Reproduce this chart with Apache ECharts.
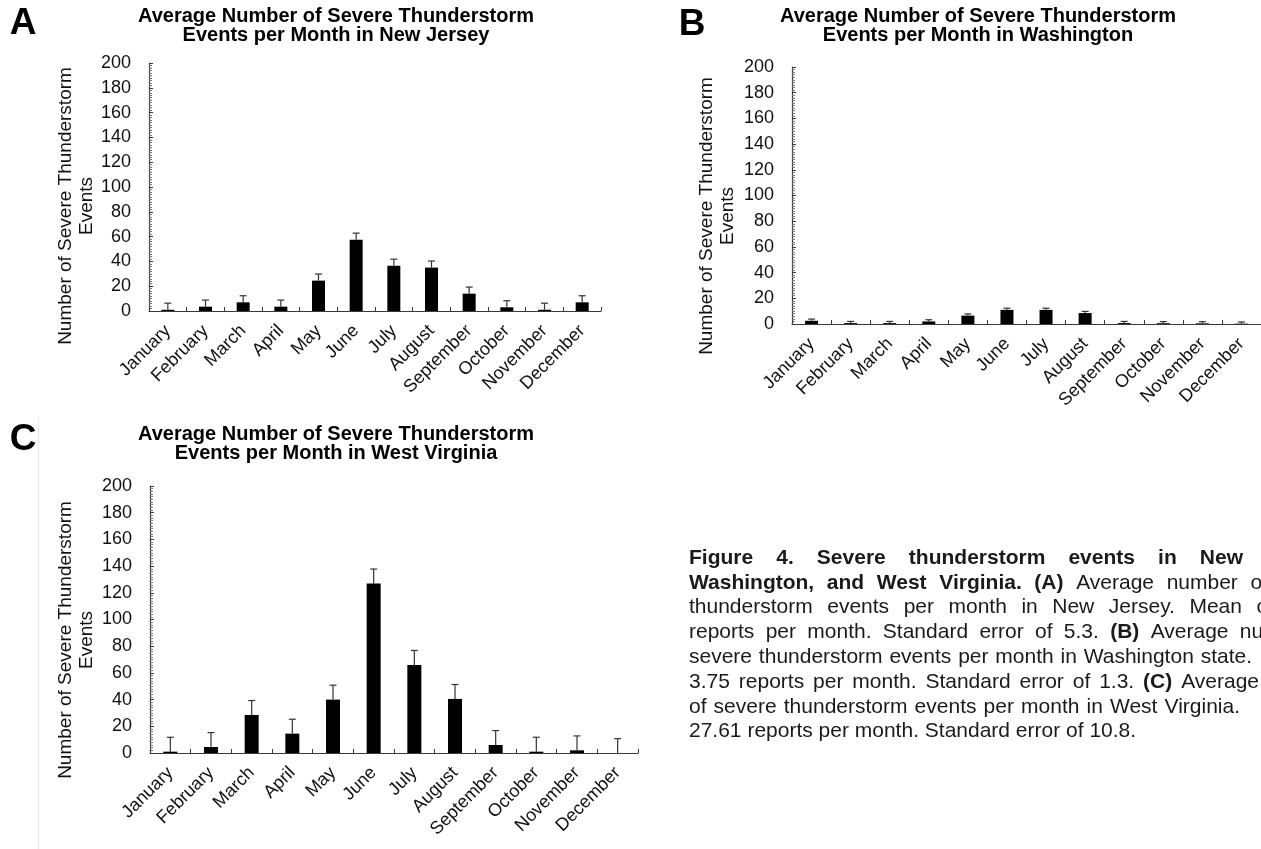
<!DOCTYPE html>
<html>
<head>
<meta charset="utf-8">
<script src="https://cdn.jsdelivr.net/npm/echarts@6/dist/echarts.min.js"></script>
<style>
  html, body { margin: 0; padding: 0; background: #fff; }
  #chart { width: 1261px; height: 849px; }
</style>
</head>
<body>
<div id="chart"></div>
<script>
// ---- data ----
const months = ['January', 'February', 'March', 'April', 'May', 'June',
                'July', 'August', 'September', 'October', 'November', 'December'];
const yMin = 0, yMax = 200, yStep = 20;

// New Jersey: mean reports per month, standard error
const njMeans = [1, 3.5, 7, 3.5, 24.5, 57.5, 36.5, 35, 14, 3, 1, 7];
const njSE = 5.3;

// Washington
const waMeans = [2.5, 0.7, 0.7, 2, 6.5, 11, 11, 8.5, 0.7, 0.6, 0.5, 0.3];
const waSE = 1.3;

// West Virginia
const wvMeans = [1, 4.5, 28.5, 14.5, 40, 127, 66, 40.5, 6, 1, 2, 0];
const wvSE = 10.8;

const panelLetters = ['A', 'B', 'C'];
const panelTitles = [
  'Average Number of Severe Thunderstorm\nEvents per Month in New Jersey',
  'Average Number of Severe Thunderstorm\nEvents per Month in Washington',
  'Average Number of Severe Thunderstorm\nEvents per Month in West Virginia'
];
const yAxisTitle = 'Number of Severe Thunderstorm\nEvents';

const captionLines = [
  '**Figure 4. Severe thunderstorm events in New**',
  '**Washington, and West Virginia. (A)** Average number of',
  'thunderstorm events per month in New Jersey. Mean of',
  'reports per month. Standard error of 5.3. **(B)** Average number',
  'severe thunderstorm events per month in Washington state.',
  '3.75 reports per month. Standard error of 1.3. **(C)** Average',
  'of severe thunderstorm events per month in West Virginia.',
  '27.61 reports per month. Standard error of 10.8.'
];

// ---- layout ----
const FONT = '"Liberation Sans", Arial, Helvetica, sans-serif';
const panelData = [
  { means: njMeans, se: njSE },
  { means: waMeans, se: waSE },
  { means: wvMeans, se: wvSE }
];
const panelLayout = [
  { grid: { left: 149, top: 63, width: 452, height: 248 }, barWidth: 13, title: [336, 25.5], letter: [23, 24], yName: [76, 206] },
  { grid: { left: 792, top: 67, width: 475, height: 257 }, barWidth: 13, title: [978, 26], letter: [692, 25], yName: [717, 216] },
  { grid: { left: 150, top: 486, width: 488, height: 267 }, barWidth: 14, title: [336, 444], letter: [23, 440], yName: [76, 640] }
];
// caption block: left edge, first line centre, line step, right end of each justified line (null = ragged)
const captionBox = { x: 689, y: 558, step: 24.8, size: 21 };
const captionRight = [1243, 1268, 1274, 1311, 1252, 1259, 1240, null];

const INK = '#111';
const AXIS = '#3a3a3a';

const grids = [], xAxes = [], yAxes = [], series = [], graphics = [];

panelLayout.forEach((lay, i) => {
  grids.push(Object.assign({ containLabel: false }, lay.grid));
  xAxes.push({
    type: 'category', gridIndex: i, data: months, boundaryGap: true,
    axisLine: { lineStyle: { color: AXIS, width: 1.2 } },
    axisTick: { show: true, inside: true, length: 4, lineStyle: { color: AXIS } },
    axisLabel: { interval: 0, rotate: 45, margin: 17, fontSize: 18, fontFamily: FONT, color: INK }
  });
  yAxes.push({
    type: 'value', gridIndex: i, min: yMin, max: yMax, interval: yStep,
    splitLine: { show: false },
    axisLine: { show: true, lineStyle: { color: AXIS, width: 1.2 } },
    axisTick: { show: true, inside: true, length: 4, lineStyle: { color: AXIS } },
    minorTick: { show: true, splitNumber: 10, length: 3, lineStyle: { color: '#777' } },
    axisLabel: { margin: 18, fontSize: 18, fontFamily: FONT, color: INK }
  });
  const d = panelData[i];
  series.push({
    type: 'bar', xAxisIndex: i, yAxisIndex: i, data: d.means,
    barWidth: lay.barWidth, itemStyle: { color: '#000' }, silent: true, z: 2
  });
  series.push({
    type: 'custom', xAxisIndex: i, yAxisIndex: i, silent: true, z: 3,
    encode: { x: 0, y: 1 },
    data: d.means.map((m, k) => [k, m, d.se]),
    renderItem: (params, api) => {
      const k = api.value(0), m = api.value(1), e = api.value(2);
      const base = api.coord([k, m]);
      const top = api.coord([k, m + e]);
      const cap = 3.5;
      const st = { stroke: '#333', lineWidth: 1.2 };
      return {
        type: 'group', children: [
          { type: 'line', shape: { x1: base[0], y1: base[1], x2: top[0], y2: top[1] }, style: st },
          { type: 'line', shape: { x1: top[0] - cap, y1: top[1], x2: top[0] + cap, y2: top[1] }, style: st }
        ]
      };
    }
  });

  graphics.push({
    type: 'text', x: lay.letter[0], y: lay.letter[1],
    style: { text: panelLetters[i], fontSize: 37, fontWeight: 'bold', fontFamily: FONT, fill: '#000', align: 'center', verticalAlign: 'middle' }
  });
  graphics.push({
    type: 'text', x: lay.title[0], y: lay.title[1],
    style: { text: panelTitles[i], fontSize: 20, fontWeight: 'bold', fontFamily: FONT, fill: '#000', align: 'center', verticalAlign: 'middle', lineHeight: 19 }
  });
  graphics.push({
    type: 'text', x: lay.yName[0], y: lay.yName[1], rotation: Math.PI / 2,
    style: { text: yAxisTitle, fontSize: 19, fontFamily: FONT, fill: INK, align: 'center', verticalAlign: 'middle', lineHeight: 21 }
  });
});

// faint panel border line beside panel C
graphics.push({ type: 'line', shape: { x1: 38.5, y1: 418, x2: 38.5, y2: 849 }, style: { stroke: '#e6e6e6', lineWidth: 1 } });

// caption, laid out word by word so justified lines spread to their right end
const ctx = document.createElement('canvas').getContext('2d');
function textWidth(t, bold) {
  ctx.font = (bold ? 'bold ' : '') + captionBox.size + 'px ' + FONT;
  return ctx.measureText(t).width;
}
captionLines.forEach((line, li) => {
  const words = [];
  line.split('**').forEach((seg, si) => {
    seg.split(' ').filter(s => s.length).forEach(wd => words.push({ t: wd, b: si % 2 === 1 }));
  });
  const widths = words.map(wd => textWidth(wd.t, wd.b));
  const total = widths.reduce((a, b) => a + b, 0);
  const right = captionRight[li];
  const gap = right == null ? textWidth(' ', false) : (right - captionBox.x - total) / (words.length - 1);
  let x = captionBox.x;
  const y = captionBox.y + li * captionBox.step;
  words.forEach((wd, wi) => {
    graphics.push({
      type: 'text', x: x, y: y,
      style: { text: wd.t, fontSize: captionBox.size, fontWeight: wd.b ? 'bold' : 'normal', fontFamily: FONT, fill: '#1a1a1a', verticalAlign: 'middle' }
    });
    x += widths[wi] + gap;
  });
});

const chart = echarts.init(document.getElementById('chart'), null, { renderer: 'canvas' });
chart.setOption({
  animation: false,
  backgroundColor: '#fff',
  grid: grids, xAxis: xAxes, yAxis: yAxes, series: series,
  graphic: { elements: graphics }
});
</script>
</body>
</html>
